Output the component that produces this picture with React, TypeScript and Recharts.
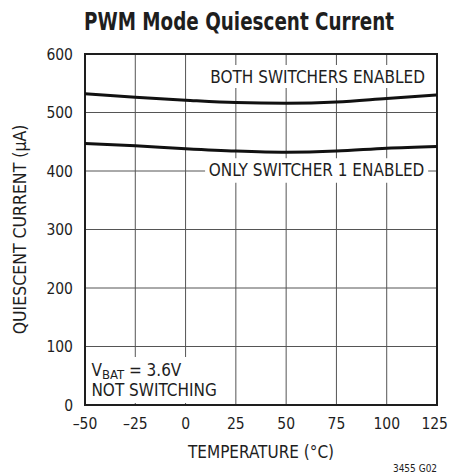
import React from 'react';
import {
  LineChart,
  Line,
  XAxis,
  YAxis,
  CartesianGrid,
  ReferenceArea,
  Label
} from 'recharts';

// temperature (°C) on the x axis
const temps = [-50, -25, 0, 25, 50, 75, 100, 125];
// quiescent current (µA)
const bothEnabled = [532, 526, 521, 517, 516, 518, 524, 530];
const onlySw1 = [447, 443, 438, 434, 432, 434, 439, 442];

const xTicks = [-50, -25, 0, 25, 50, 75, 100, 125];
const yTicks = [0, 100, 200, 300, 400, 500, 600];

const FONT = '"Liberation Sans Narrow", "DejaVu Sans Condensed", "Arial Narrow", sans-serif';
const INK = '#1e1e1e';
const TICK_SIZE = 15.5;

const data = temps.map((t, i) => ({ t, both: bothEnabled[i], only: onlySw1[i] }));

const fmtX = (v: number) => (v < 0 ? `\u2013${Math.abs(v)}` : `${v}`);

// x tick: last label is kept inside the page edge
const XTick = (props: any) => {
  const { x, y, payload } = props;
  const last = payload.value === xTicks[xTicks.length - 1];
  return (
    <text
      x={last ? x + 11 : x}
      y={y}
      dy="0.71em"
      textAnchor={last ? 'end' : 'middle'}
      fontFamily={FONT}
      fontSize={TICK_SIZE}
      fill={INK}
    >
      {fmtX(payload.value)}
    </text>
  );
};

/**
 * VBAT note in the lower left corner
 */
const VbatNote = (props: any) => {
  const { x, y } = props.viewBox;
  return (
    <g fontFamily={FONT} fill={INK} fontSize={17}>
      <text x={x + 5} y={y + 19}>
        V<tspan fontSize={13} dy={3}>BAT</tspan>
        <tspan dy={-3}> = 3.6V</tspan>
      </text>
      <text x={x + 5} y={y + 38.5}>NOT SWITCHING</text>
    </g>
  );
};

const XTitle = (props: any) => {
  const { x, y, width } = props.viewBox;
  return (
    <g fontFamily={FONT} fill={INK}>
      <text x={x + width / 2} y={y + 53} textAnchor="middle" fontSize={17}>
        TEMPERATURE (°C)
      </text>
      <text x={x + width - 22} y={y + 67} textAnchor="middle" fontSize={10}>
        3455 G02
      </text>
    </g>
  );
};

const YTitle = (props: any) => {
  const { y, height } = props.viewBox;
  const cy = y + height / 2;
  return (
    <text
      x={20}
      y={cy}
      transform={`rotate(-90 20 ${cy})`}
      textAnchor="middle"
      dominantBaseline="central"
      fontFamily={FONT}
      fontSize={17.5}
      fill={INK}
    >
      QUIESCENT CURRENT (µA)
    </text>
  );
};

const App: React.FC = () => {
  return (
    <div style={{ position: 'absolute', left: 0, top: 0, width: 449, height: 475, background: '#fff' }}>
      <div
        style={{
          position: 'absolute',
          left: 0,
          width: 478,
          top: 7,
          textAlign: 'center',
          fontFamily: FONT,
          fontWeight: 'bold',
          fontSize: 24,
          lineHeight: '30px',
          color: INK,
          transform: 'scaleX(0.85)',
          transformOrigin: '239px 0'
        }}
      >
        PWM Mode Quiescent Current
      </div>
      <LineChart
        width={449}
        height={475}
        data={data}
        margin={{ top: 54, right: 12, left: 0, bottom: 0 }}
      >
        <CartesianGrid stroke="#555" strokeWidth={1} horizontalValues={yTicks} verticalValues={xTicks} />
        <XAxis
          dataKey="t"
          type="number"
          domain={[-50, 125]}
          ticks={xTicks}
          tickSize={0}
          tickMargin={13}
          height={70}
          axisLine={false}
          tick={<XTick />}
          interval={0}
        >
          <Label content={<XTitle />} />
        </XAxis>
        <YAxis
          type="number"
          domain={[0, 600]}
          ticks={yTicks}
          tickSize={0}
          tickMargin={12}
          width={85}
          axisLine={false}
          tick={{ fill: INK, fontSize: TICK_SIZE, fontFamily: FONT }}
          interval={0}
        >
          <Label content={<YTitle />} />
        </YAxis>
        <ReferenceArea x1={9.7} x2={121.6} y1={542} y2={581} fill="#fff" fillOpacity={1} stroke="none">
          <Label value="BOTH SWITCHERS ENABLED" position="center" fill={INK} fontSize={17} fontFamily={FONT} />
        </ReferenceArea>
        <ReferenceArea x1={9.7} x2={120.6} y1={380} y2={422} fill="#fff" fillOpacity={1} stroke="none">
          <Label value="ONLY SWITCHER 1 ENABLED" position="center" fill={INK} fontSize={17} fontFamily={FONT} />
        </ReferenceArea>
        <ReferenceArea x1={-49.3} x2={16} y1={3.4} y2={82} fill="#fff" fillOpacity={1} stroke="none">
          <Label content={<VbatNote />} />
        </ReferenceArea>
        <ReferenceArea x1={-50} x2={125} y1={0} y2={600} fill="none" stroke={INK} strokeWidth={2} />
        <Line
          type="monotone"
          dataKey="both"
          stroke="#111"
          strokeWidth={3}
          dot={false}
          isAnimationActive={false}
        />
        <Line
          type="monotone"
          dataKey="only"
          stroke="#111"
          strokeWidth={3}
          dot={false}
          isAnimationActive={false}
        />
      </LineChart>
    </div>
  );
};

export default App;
